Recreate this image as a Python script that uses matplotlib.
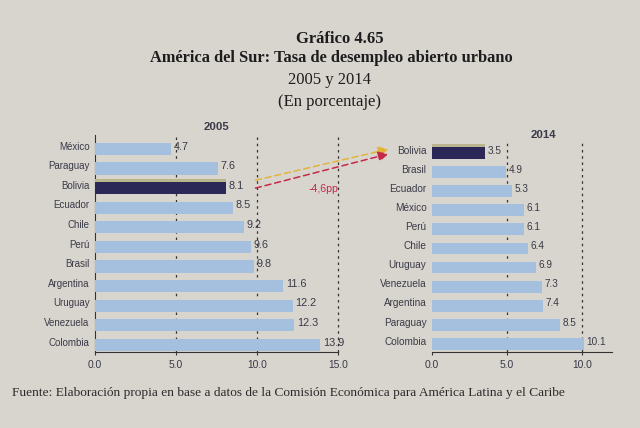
import numpy as np
import matplotlib.pyplot as plt
from matplotlib.patches import ConnectionPatch

# data
paises_2005 = ['México', 'Paraguay', 'Bolivia', 'Ecuador', 'Chile', 'Perú', 'Brasil',
               'Argentina', 'Uruguay', 'Venezuela', 'Colombia']
tasa_2005 = [4.7, 7.6, 8.1, 8.5, 9.2, 9.6, 9.8, 11.6, 12.2, 12.3, 13.9]

paises_2014 = ['Bolivia', 'Brasil', 'Ecuador', 'México', 'Perú', 'Chile', 'Uruguay',
               'Venezuela', 'Argentina', 'Paraguay', 'Colombia']
tasa_2014 = [3.5, 4.9, 5.3, 6.1, 6.1, 6.4, 6.9, 7.3, 7.4, 8.5, 10.1]

ticks_2005 = [0, 5, 10, 15]
ticks_2014 = [0, 5, 10]
diferencia = '-4,6pp'

PAPER = '#d8d5ce'
BLUE = '#a5c0de'
NAVY = '#2b2858'
KHAKI = '#b9b58c'
TXT = '#3a3a48'
FONT = 'Liberation Sans'
SERIF = 'Liberation Serif'


def label(ax, x, y, s, coords, dx=0, dy=0, **kw):
    """small chart text with an offset in points"""
    ax.annotate(s, (x, y), xycoords=coords, xytext=(dx, dy), textcoords='offset points',
                color=TXT, fontfamily=FONT, annotation_clip=False, **kw)


def draw_panel(ax, names, values, year, highlight, xmax, ticks, ylim, show_left, year_x,
               fs_names, fs_vals):
    n = len(names)
    pos = np.arange(n)[::-1]  # first country on top
    colors = [NAVY if c == highlight else BLUE for c in names]
    ax.barh(pos, values, height=0.62, color=colors, zorder=3)
    # thin khaki band over the highlighted bar
    for p, c, v in zip(pos, names, values):
        if c == highlight:
            ax.barh(p + 0.31 + 0.09, v, height=0.18, color=KHAKI, zorder=3)
    for p, v in zip(pos, values):
        label(ax, v, p + 0.12, f'{v:.1f}', 'data', dx=2, fontsize=fs_vals,
              ha='left', va='center')
    ax.set_xlim(0, xmax)
    ax.set_ylim(*ylim)
    ax.set_facecolor('none')
    for x in ticks[1:]:
        ax.axvline(x, color='#333333', lw=0.9, ls=(0, (2, 3)), zorder=1, clip_on=False)
    ax.set_yticks(pos)
    ax.set_yticklabels([])
    for p, c in zip(pos, names):
        label(ax, 0, p + 0.12, c, ('axes fraction', 'data'), dx=-4,
              fontsize=fs_names, ha='right', va='center')
    ax.set_xticks(ticks)
    ax.set_xticklabels([])
    for t in ticks:
        label(ax, t, 0, f'{t:.1f}', ('data', 'axes fraction'), dy=-9,
              fontsize=7.4, ha='center', va='center')
    ax.tick_params(axis='x', length=2.5, color='#333333')
    ax.tick_params(axis='y', length=0)
    for s in ['top', 'right']:
        ax.spines[s].set_visible(False)
    ax.spines['left'].set_visible(show_left)
    ax.spines['bottom'].set_color('#333333')
    ax.spines['left'].set_color('#333333')
    label(ax, year_x, 1.0, str(year), 'axes fraction', dy=2,
          fontsize=8.2, fontweight='bold', ha='center', va='bottom')
    return pos


fig = plt.figure(figsize=(6.4, 4.28), dpi=100, facecolor=PAPER)
ax1 = fig.add_axes([95 / 640, 1 - 352 / 428, 243 / 640, 217 / 428])
ax2 = fig.add_axes([432 / 640, 1 - 352 / 428, 180 / 640, 209 / 428])

pos1 = draw_panel(ax1, paises_2005, tasa_2005, 2005, 'Bolivia', 15, ticks_2005,
                  (-0.36, 10.71), True, 0.5, 7.0, 7.8)
pos2 = draw_panel(ax2, paises_2014, tasa_2014, 2014, 'Bolivia', 12, ticks_2014,
                  (-0.42, 10.52), False, 0.62, 7.2, 7.2)

# arrows between the two Bolivia bars
b1 = pos1[paises_2005.index('Bolivia')]
b2 = pos2[paises_2014.index('Bolivia')]
v1 = tasa_2005[paises_2005.index('Bolivia')]
for col, dy1, dy2 in [('#e3b43a', 0.4, 0.2), ('#c22a4a', 0.0, -0.05)]:
    con = ConnectionPatch(xyA=(v1 + 1.8, b1 + dy1), coordsA=ax1.transData,
                          xyB=(-2.9, b2 + dy2), coordsB=ax2.transData,
                          arrowstyle='-|>,head_length=0.6,head_width=0.3',
                          color=col, lw=1.1, ls=(0, (4, 2.5)), zorder=5)
    fig.add_artist(con)
ax1.annotate(diferencia, (v1 + 6.0, b1 - 0.05), xycoords='data', color='#c22a4a',
             fontsize=7.6, fontfamily=FONT, ha='center', va='center', annotation_clip=False)

# titles in the book's serif type
fig.text(340 / 640, 1 - 39 / 428, 'Gráfico 4.65', fontfamily=SERIF, fontweight='bold',
         fontsize=12, ha='center', va='center', color='#1d1d1d')
fig.text(331 / 640, 1 - 58 / 428, 'América del Sur: Tasa de desempleo abierto urbano',
         fontfamily=SERIF, fontweight='bold', fontsize=11.8, ha='center', va='center',
         color='#1d1d1d')
fig.text(330 / 640, 1 - 80 / 428, '2005 y 2014', fontfamily=SERIF, fontsize=12,
         ha='center', va='center', color='#1d1d1d')
fig.text(330 / 640, 1 - 102 / 428, '(En porcentaje)', fontfamily=SERIF, fontsize=12,
         ha='center', va='center', color='#1d1d1d')
fig.text(12 / 640, 1 - 393 / 428,
         'Fuente: Elaboración propia en base a datos de la Comisión Económica para América Latina y el Caribe',
         fontfamily=SERIF, fontsize=9.6, ha='left', va='center', color='#2a2a2a')

fig.savefig('out.png', dpi=100, facecolor=PAPER)
